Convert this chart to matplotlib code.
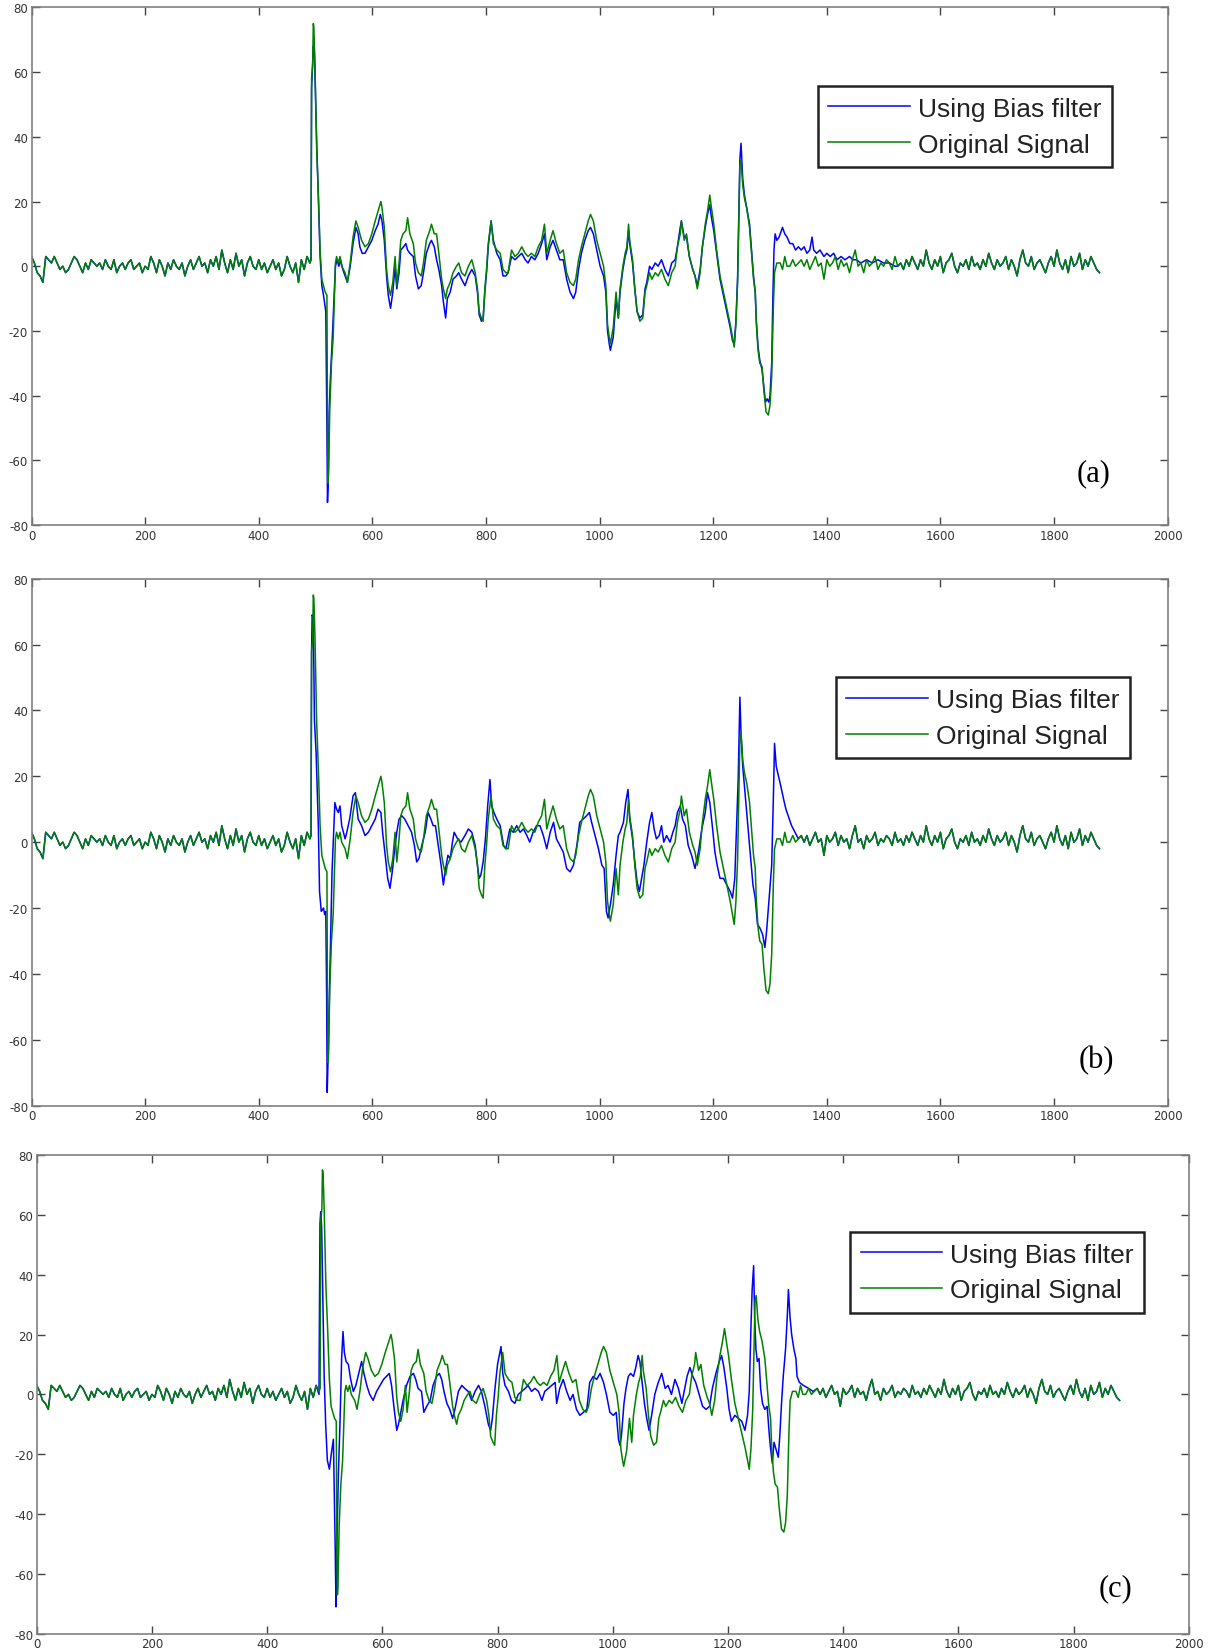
import numpy as np
import matplotlib
matplotlib.use("Agg")
import matplotlib.pyplot as plt

plt.rcParams['axes.unicode_minus'] = False

# original signal, quiet part before the event (x = 0, 5, ..., 485)
green_head = [3, 1, -2, -3, -5, 3, 2, 1, 3, 1, -1, 0, -2, -1, 1, 3, 2, 0, -2, 1,
              -1, 2, 1, 0, 1, -1, 2, 0, -1, 2, -2, 0, 1, -1, 1, 2, -1, 0, 1, -2,
              0, -1, 3, 1, -2, 2, 0, -3, 1, -1, 2, 0, -1, 1, -3, 0, 2, -1, 1, 3,
              0, 1, -2, 2, 0, 3, -1, 5, 1, -2, 2, -1, 4, 0, 2, -3, 1, 3, 0, -1,
              2, -1, 1, -2, 0, 2, -1, 1, -3, -1, 3, 0, -2, 1, -5, 2, -1, 3]

# original signal, quiet part after the event (x = 1350, 1355, ..., 1880)
green_tail = [1, 2, 0, 2, -1, 1, 3, 0, 1, -4, 2, 0, 1, 3, -1, 2, 0, 1, -2, 2,
              5, 0, 1, -2, 2, 0, 1, 3, -1, 1, 0, 2, 1, -1, 3, 0, 1, -1, 2, 0,
              3, 1, -1, 2, 0, 5, 1, -1, 2, 0, 3, -2, 1, 2, 4, 0, -2, 1, 0, 2,
              -1, 3, 0, 1, -1, 2, 0, 4, 1, -1, 2, 0, 1, 3, -1, 2, 0, -3, 2, 5,
              1, 0, 3, -1, 1, 2, 0, -2, 1, 3, 0, 5, 1, -1, 2, -2, 3, 0, 1, 4,
              -1, 2, 0, 3, 1, -1, -2]

# original signal during the event
green_event = [
    (490, 1), (492, 2), (493, 58), (495, 62), (496, 75), (497, 74), (499, 62),
    (502, 36), (505, 22), (508, 5), (511, -4), (514, -6), (517, -8), (520, -9),
    (521, -50), (522, -67), (523, -64), (525, -44), (528, -30), (531, -22),
    (533, -11), (535, 1), (537, 3), (540, 1), (543, 3), (546, 0), (552, -2),
    (556, -5), (561, 1), (566, 9), (571, 14), (575, 12), (581, 8), (587, 6),
    (593, 7), (599, 10), (605, 14), (610, 17), (615, 20), (617, 18), (621, 12),
    (625, -1), (628, -6), (632, -9), (636, -5), (640, 3), (643, -6), (647, 1),
    (650, 8), (654, 10), (659, 11), (662, 15), (666, 10), (672, 7), (676, 1),
    (681, -2), (686, -3), (690, 1), (695, 8), (701, 11), (704, 13), (709, 10),
    (713, 10), (717, 4), (722, -4), (725, -7), (729, -10), (732, -7), (737, -5),
    (742, -2), (748, 0), (752, 1), (757, -2), (763, -3), (769, 0), (775, 2),
    (781, -2), (785, -7), (788, -14), (792, -16), (795, -17), (798, -7),
    (801, -1), (804, 7), (809, 14), (813, 7), (819, 5), (825, 4), (830, -1),
    (835, -2), (839, -2), (845, 5), (851, 3), (857, 4), (863, 6), (869, 4),
    (874, 3), (880, 4), (886, 3), (892, 6), (898, 8), (903, 13), (907, 4),
    (913, 8), (918, 11), (924, 7), (930, 4), (936, 5), (942, -2), (948, -5),
    (954, -6), (958, -4), (963, 2), (968, 6), (974, 10), (980, 14), (984, 16),
    (989, 14), (995, 8), (1001, 4), (1007, 0), (1011, -6), (1014, -18),
    (1017, -22), (1019, -24), (1024, -19), (1029, -8), (1033, -16), (1036, -7),
    (1041, 0), (1045, 4), (1048, 6), (1051, 13), (1053, 8), (1058, 2),
    (1062, -7), (1066, -14), (1071, -17), (1076, -16), (1080, -8), (1083, -6),
    (1088, -2), (1092, -4), (1098, -2), (1103, -3), (1109, -1), (1115, -4),
    (1121, -6), (1127, -2), (1133, 0), (1137, 6), (1142, 10), (1144, 14),
    (1149, 8), (1153, 10), (1158, 3), (1164, -1), (1168, -3), (1172, -7),
    (1177, -2), (1181, 6), (1186, 13), (1190, 17), (1194, 22), (1197, 18),
    (1201, 13), (1206, 5), (1212, -3), (1218, -8), (1224, -13), (1230, -18),
    (1234, -22), (1237, -25), (1240, -18), (1243, -5), (1245, 13), (1247, 31),
    (1249, 33), (1252, 25), (1255, 21), (1259, 18), (1264, 12), (1268, 3),
    (1271, -4), (1274, -8), (1276, -18), (1279, -26), (1282, -30), (1286, -31),
    (1289, -38), (1293, -45), (1297, -46), (1300, -43), (1303, -34),
    (1306, -12), (1308, -2), (1312, 1), (1318, 1), (1322, -1), (1326, 3),
    (1330, 0), (1335, 0), (1340, 2), (1345, 0),
]

# bias filter, panel (a)
blue_a_event = [
    (490, 1), (492, 2), (493, 55), (496, 68), (498, 66), (500, 52), (502, 38),
    (505, 20), (508, 3), (511, -6), (514, -9), (518, -14), (520, -50),
    (521, -73), (522, -68), (524, -45), (526, -35), (529, -24), (532, -12),
    (535, 0), (538, 2), (541, 0), (544, 2), (548, -1), (552, -3), (556, -5),
    (561, 0), (566, 7), (571, 12), (575, 10), (578, 6), (582, 4), (587, 4),
    (593, 6), (599, 8), (605, 11), (610, 13), (614, 16), (617, 14), (621, 8),
    (625, -3), (628, -9), (632, -13), (636, -8), (640, 0), (643, -7), (647, -2),
    (650, 5), (655, 6), (659, 7), (662, 5), (666, 4), (672, 3), (676, -3),
    (681, -7), (686, -6), (690, -2), (695, 4), (701, 7), (704, 8), (709, 6),
    (713, 2), (717, -1), (722, -6), (725, -11), (729, -16), (732, -10),
    (737, -8), (742, -4), (748, -3), (752, -2), (757, -4), (763, -6), (769, -3),
    (775, -1), (781, -3), (785, -8), (788, -15), (792, -17), (795, -16),
    (798, -8), (801, -2), (804, 6), (809, 14), (813, 8), (819, 4), (825, 2),
    (830, -3), (835, -3), (839, -2), (845, 3), (851, 2), (857, 3), (863, 4),
    (869, 2), (874, 1), (880, 3), (886, 2), (892, 4), (898, 7), (903, 10),
    (907, 2), (913, 6), (918, 8), (924, 5), (930, 2), (936, 2), (942, -4),
    (948, -8), (954, -10), (958, -8), (963, -1), (968, 4), (974, 8), (980, 11),
    (984, 12), (989, 10), (995, 5), (1001, 0), (1007, -3), (1011, -8),
    (1014, -20), (1017, -24), (1019, -26), (1024, -22), (1029, -10),
    (1033, -16), (1036, -8), (1041, -1), (1045, 3), (1048, 5), (1051, 11),
    (1053, 7), (1058, 1), (1062, -7), (1066, -14), (1071, -16), (1076, -15),
    (1080, -7), (1083, -5), (1088, 0), (1092, -1), (1098, 1), (1103, 0),
    (1109, 2), (1115, -1), (1121, -3), (1127, 1), (1133, 2), (1137, 6),
    (1142, 12), (1144, 14), (1149, 9), (1153, 9), (1158, 3), (1164, -1),
    (1168, -3), (1172, -6), (1177, -1), (1181, 6), (1186, 12), (1190, 16),
    (1194, 19), (1197, 15), (1201, 11), (1206, 4), (1212, -4), (1218, -9),
    (1224, -14), (1230, -19), (1234, -23), (1237, -24), (1240, -17),
    (1243, -3), (1245, 15), (1247, 33), (1249, 38), (1252, 27), (1255, 22),
    (1259, 18), (1264, 13), (1268, 4), (1271, -3), (1274, -8), (1276, -17),
    (1279, -25), (1282, -29), (1286, -32), (1289, -37), (1292, -42),
    (1295, -41), (1298, -42), (1300, -40), (1303, -30), (1305, -10), (1307, 5),
    (1309, 10), (1312, 8), (1316, 9), (1320, 11), (1322, 12), (1326, 10),
    (1330, 9), (1335, 7), (1340, 7), (1345, 5), (1350, 6), (1355, 5),
    (1360, 6), (1365, 4), (1370, 5), (1374, 9), (1377, 5), (1382, 4),
    (1388, 5), (1395, 3), (1400, 4), (1406, 3), (1412, 4), (1418, 2),
    (1425, 3), (1432, 2), (1440, 3), (1446, 2), (1452, 2), (1460, 1),
    (1470, 2), (1480, 1), (1490, 2), (1500, 1), (1510, 1), (1520, 0),
]

# bias filter, panel (b)
blue_b_event = [
    (490, 1), (492, 2), (493, 58), (494, 69), (496, 68), (498, 37), (501, 27),
    (503, 16), (505, 4), (507, -15), (510, -21), (514, -20), (516, -22),
    (518, -21), (519.5, -47), (520.5, -76), (522, -66), (525, -42), (527, -26),
    (529, -9), (532, 4), (534, 12), (537, 10), (540, 9), (543, 11), (546, 5),
    (549, 3), (552, 1), (555, 3), (560, 7), (566, 14), (570, 15), (575, 7),
    (581, 5), (587, 2), (593, 3), (599, 5), (605, 7), (610, 10), (615, 9),
    (618, 3), (622, -3), (627, -11), (631, -14), (635, -9), (640, -1), (643, 3),
    (647, 7), (652, 8), (657, 7), (663, 5), (669, 3), (674, -1), (678, -6),
    (682, -5), (687, -1), (693, 3), (698, 9), (703, 7), (707, 5), (711, 5),
    (716, -1), (721, -7), (725, -13), (728, -9), (733, -4), (737, -5), (741, 0),
    (744, 3), (750, 1), (756, 0), (763, 2), (769, 4), (775, 3), (781, -1),
    (785, -7), (788, -11), (791, -10), (795, -6), (799, 1), (803, 11),
    (807, 19), (810, 11), (814, 9), (819, 7), (825, 5), (831, -1), (835, -2),
    (842, 4), (848, 3), (854, 5), (860, 3), (866, 4), (872, 2), (877, 0),
    (883, 3), (889, 5), (895, 5), (901, 2), (907, -2), (913, 3), (919, 6),
    (924, 1), (930, -1), (936, -3), (942, -8), (948, -9), (954, -7), (960, -1),
    (965, 6), (971, 7), (977, 8), (982, 9), (986, 6), (992, 2), (998, -2),
    (1004, -7), (1008, -8), (1012, -21), (1015, -23), (1019, -19), (1024, -13),
    (1029, -4), (1033, 2), (1036, 3), (1042, 6), (1046, 12), (1050, 16),
    (1053, 7), (1058, 1), (1062, -6), (1066, -12), (1070, -15), (1074, -11),
    (1078, -7), (1083, 0), (1088, 6), (1092, 9), (1096, 4), (1100, 1),
    (1105, 2), (1109, 5), (1113, 0), (1118, 2), (1124, 0), (1129, 3),
    (1133, 5), (1137, 9), (1142, 11), (1146, 7), (1151, 5), (1156, -1),
    (1162, -4), (1168, -8), (1174, -3), (1180, 4), (1186, 9), (1190, 15),
    (1194, 12), (1199, 4), (1203, -3), (1207, -7), (1212, -11), (1218, -11),
    (1224, -13), (1230, -15), (1234, -17), (1238, -11), (1241, 4), (1244, 19),
    (1247, 44), (1249, 33), (1252, 23), (1254, 19), (1258, 11), (1262, 3),
    (1266, -5), (1270, -13), (1274, -17), (1278, -25), (1282, -26),
    (1287, -28), (1291, -32), (1294, -27), (1299, -16), (1303, -7), (1306, 14),
    (1308, 30), (1311, 23), (1315, 20), (1319, 17), (1324, 13), (1328, 10),
    (1332, 8), (1338, 5), (1344, 3), (1350, 1),
]

# bias filter, panel (c)
blue_c_event = [
    (490, 0), (491.7, 57), (493, 61), (494.6, 56), (495.8, 43), (497.5, 23),
    (499, 6), (501.6, -10), (504.5, -22), (508, -25), (512, -19), (515, -15),
    (516.6, -33), (518.3, -53), (519.5, -71), (521.2, -49), (523.6, -27),
    (526.4, -10), (529.3, 12), (531.7, 21), (534, 14), (537, 11), (541, 10),
    (545, 5), (549.6, 1), (554, 3), (559, 7), (564, 11), (568, 7), (573, 3),
    (578, 0), (584, -2), (590, 1), (596, 3), (602, 5), (607, 6), (612, 7),
    (616, 3), (620, -4), (625, -12), (628, -10), (632, -6), (636, -2), (642, 3),
    (648, 6), (654, 7), (658, 5), (662, 2), (668, 1), (672, -6), (677, -4),
    (683, -2), (688, 3), (694, 6), (699, 7), (703, 5), (707, 1), (712, -3),
    (717, -5), (722, -8), (726, -5), (732, 1), (738, 3), (743, 2), (749, 1),
    (755, -2), (761, 1), (767, 3), (772, 1), (778, -4), (784, -10), (788, -12),
    (791, -8), (795, 1), (800, 10), (803, 13), (806, 16), (809, 7), (813, 3),
    (819, 1), (824, -2), (830, -3), (836, 0), (842, 1), (848, 2), (853, 3),
    (859, 1), (865, 2), (871, 1), (877, -2), (882, 1), (888, 2), (894, 3),
    (900, 4), (902.6, -3), (908, 2), (914, 5), (920, 1), (926, -2), (931, 0),
    (937, -5), (943, -7), (949, -6), (955, -5), (960, 4), (966, 6), (972, 5),
    (978, 7), (984, 4), (989, 0), (995, -6), (1001, -7), (1006, -6),
    (1010, -15), (1012.5, -17), (1015, -14), (1019.5, -3), (1023, 2),
    (1027, 6), (1031, 7), (1036, 6), (1040, 9), (1044, 13), (1047, 11),
    (1051, 4), (1055, -3), (1059, -8), (1063, -12), (1067.5, -7), (1073, 0),
    (1079, 4), (1085, 7), (1091, 2), (1096, 3), (1102, 0), (1108, 5),
    (1114, 2), (1120, -3), (1125, 2), (1129, 6), (1134, 9), (1139, 6),
    (1144, 4), (1150, 0), (1156, -4), (1162, -5), (1168, -4), (1173, 2),
    (1179, 7), (1185, 11), (1189, 13), (1193, 9), (1198, 2), (1202, -5),
    (1206, -9), (1212, -7), (1218, -8), (1224, -9), (1229.5, -12), (1234, -7),
    (1237, 1), (1240, 23), (1242, 35), (1244.6, 43), (1246.3, 26),
    (1248.6, 15), (1251, 11), (1254, 12), (1256.7, 2), (1260, -3), (1264, -5),
    (1268, -4), (1272, -14), (1274, -18), (1277, -23), (1280, -16),
    (1283, -18), (1287.4, -21), (1290, -14), (1293, -3), (1296, 6), (1300, 15),
    (1303, 26), (1305, 35), (1307.7, 26), (1310.6, 20), (1314.6, 15),
    (1318, 12), (1320, 6), (1324, 4), (1331, 3), (1340, 2), (1348, 1),
]

panel_labels = ["(a)", "(b)", "(c)"]
legend_labels = ["Using Bias filter", "Original Signal"]
xticks = np.arange(0, 2001, 200)
yticks = np.arange(-80, 81, 20)

head_x = 5 * np.arange(len(green_head))
tail_x = 1350 + 5 * np.arange(len(green_tail))


def build(event, tail_from):
    ev = np.array(event, dtype=float)
    keep = tail_x >= tail_from
    x = np.concatenate([head_x, ev[:, 0], tail_x[keep]])
    y = np.concatenate([green_head, ev[:, 1], np.array(green_tail)[keep]])
    return x, y


green_x, green_y = build(green_event, 1350)
blues = [build(blue_a_event, 1525), build(blue_b_event, 1355),
         build(blue_c_event, 1355)]

fig = plt.figure(figsize=(12.13, 16.49), dpi=100)
rects = [[0.026, 0.681, 0.9366, 0.3139],
         [0.026, 0.3289, 0.9366, 0.3196],
         [0.0303, 0.0086, 0.9497, 0.2904]]
leg_pos = [(0.692, 0.848), (0.708, 0.8125), (0.706, 0.839)]
lab_pos = [(0.935, 0.102), (0.937, 0.088), (0.936, 0.0965)]

for i in range(3):
    ax = fig.add_axes(rects[i])
    bx, by = blues[i]
    ax.plot(bx, by, color='#0000ff', lw=1.1, label=legend_labels[0])
    ax.plot(green_x, green_y, color='#008000', lw=1.1, label=legend_labels[1])
    ax.set_xlim(0, 2000)
    ax.set_ylim(-80, 80)
    ax.set_xticks(xticks)
    ax.set_yticks(yticks)
    ax.tick_params(direction='in', length=6, width=1, color='#444444',
                   top=True, right=True, labelsize=8.5, labelcolor='#333333',
                   pad=2.5)
    for sp in ax.spines.values():
        sp.set_color('#808080')
        sp.set_linewidth(1.2)
    leg = ax.legend(loc='upper left', bbox_to_anchor=leg_pos[i],
                    borderaxespad=0, fancybox=False, framealpha=1,
                    edgecolor='#222222', handlelength=3.1, handletextpad=0.3,
                    labelspacing=0.45, borderpad=0.4,
                    prop={'family': ['Liberation Sans', 'DejaVu Sans'],
                          'size': 19})
    leg.get_frame().set_linewidth(1.8)
    for t in leg.get_texts():
        t.set_color('#222222')
    ax.text(lab_pos[i][0], lab_pos[i][1], panel_labels[i], transform=ax.transAxes,
            ha='center', va='center', fontsize=22,
            family=['Liberation Serif', 'DejaVu Serif'])

fig.savefig('out.png', dpi=100)
